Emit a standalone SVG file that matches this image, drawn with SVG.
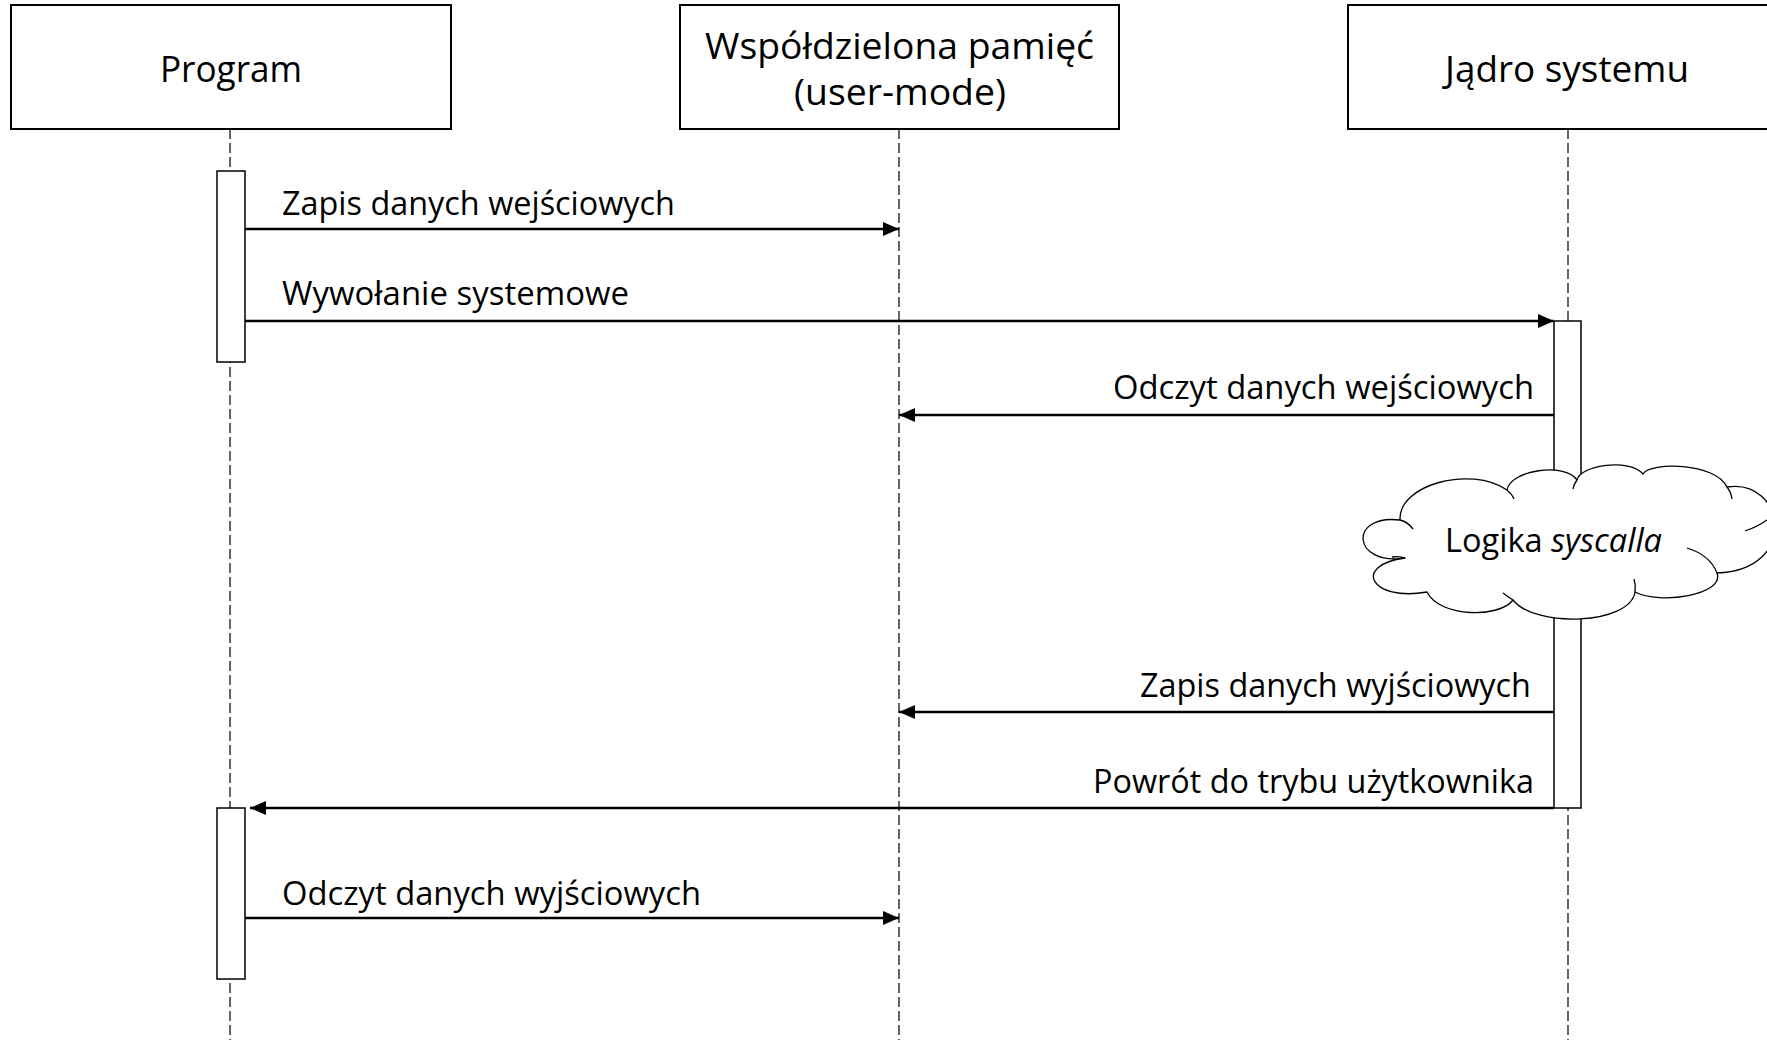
<svg xmlns="http://www.w3.org/2000/svg" width="1767" height="1044" viewBox="0 0 1767 1044">
  <style>
    .box { fill: #ffffff; stroke: #000000; stroke-width: 2; }
    .act { fill: #ffffff; stroke: #000000; stroke-width: 1.5; }
    .life { fill: none; stroke: #000000; stroke-width: 1.2; stroke-dasharray: 10 4; }
    .msg { fill: none; stroke: #000000; stroke-width: 2.5; }
    .head { font-family: "Open Sans", "Noto Sans", sans-serif; font-size: 37px; fill: #000000; text-anchor: middle; }
    .lbl { font-family: "Open Sans", "Noto Sans", sans-serif; font-size: 33px; fill: #000000; }
    .end { text-anchor: end; }
    .cloud { fill: #ffffff; stroke: #000000; stroke-width: 1.3; stroke-linejoin: round; }
    .cloudin { fill: none; stroke: #000000; stroke-width: 1.3; }
  </style>
  <defs>
    <marker id="arrow" markerUnits="userSpaceOnUse" markerWidth="17" markerHeight="15" refX="16" refY="7" orient="auto">
      <path d="M0,0 L16,7 L0,14 z" fill="#000000"/>
    </marker>
  </defs>

  <rect width="1767" height="1044" fill="#ffffff"/>

  <!-- lifelines -->
  <g id="lifelines">
    <line class="life" x1="230" y1="129" x2="230" y2="1040"/>
    <line class="life" x1="899" y1="129" x2="899" y2="1040"/>
    <line class="life" x1="1568" y1="129" x2="1568" y2="1040"/>
  </g>

  <!-- participants -->
  <g id="program">
    <rect class="box" x="11" y="5" width="440" height="124"/>
    <text class="head" x="231" y="82" textLength="142" lengthAdjust="spacingAndGlyphs">Program</text>
  </g>
  <g id="shared-memory">
    <rect class="box" x="680" y="5" width="439" height="124"/>
    <text class="head" x="899.5" y="59" textLength="389" lengthAdjust="spacingAndGlyphs">Współdzielona pamięć</text>
    <text class="head" x="900" y="105" textLength="212" lengthAdjust="spacingAndGlyphs">(user-mode)</text>
  </g>
  <g id="kernel">
    <rect class="box" x="1348" y="5" width="440" height="124"/>
    <text class="head" x="1567" y="82" textLength="244" lengthAdjust="spacingAndGlyphs">Jądro systemu</text>
  </g>

  <!-- activation bars -->
  <g id="program-activation-1">
    <rect class="act" x="217" y="171" width="28" height="191"/>
  </g>
  <g id="kernel-activation">
    <rect class="act" x="1554" y="321" width="27" height="487"/>
  </g>
  <g id="program-activation-2">
    <rect class="act" x="217" y="808" width="28" height="171"/>
  </g>

  <!-- syscall logic -->
  <g id="syscall-logic">
    <path class="cloud" d="M1405,558
      C1352,566 1348,514 1400,520
      C1398,485 1470,465 1507,490
      C1510,470 1565,462 1577,480
      C1580,465 1630,458 1643,474
      C1650,462 1715,462 1727,487
      C1785,478 1800,570 1717,573
      C1725,595 1660,605 1635,592
      C1630,625 1535,628 1513,600
      C1500,618 1440,618 1427,592
      C1370,602 1352,565 1405,558 Z"/>
    <path class="cloudin" d="M1400,520 Q1408,522 1413,529"/>
    <path class="cloudin" d="M1507,490 Q1512,494 1514,499"/>
    <path class="cloudin" d="M1577,480 Q1574,484 1573,489"/>
    <path class="cloudin" d="M1727,487 Q1731,492 1732,499"/>
    <path class="cloudin" d="M1745,531 Q1757,527 1767,520"/>
    <path class="cloudin" d="M1687,548 Q1710,555 1717,573"/>
    <path class="cloudin" d="M1635,592 Q1636,585 1634,579"/>
    <path class="cloudin" d="M1513,600 Q1508,597 1503,593"/>
    <path class="cloudin" d="M1405,558 Q1398,556 1392,557"/>
    <text class="lbl" x="1445" y="552" textLength="217" lengthAdjust="spacingAndGlyphs"><tspan>Logika </tspan><tspan font-style="italic">syscalla</tspan></text>
  </g>

  <!-- messages -->
  <g id="messages">
    <line class="msg" x1="245" y1="229" x2="899" y2="229" marker-end="url(#arrow)"/>
    <text class="lbl" x="282" y="215" textLength="393" lengthAdjust="spacingAndGlyphs">Zapis danych wejściowych</text>

    <line class="msg" x1="245" y1="321" x2="1554" y2="321" marker-end="url(#arrow)"/>
    <text class="lbl" x="282" y="305" textLength="347" lengthAdjust="spacingAndGlyphs">Wywołanie systemowe</text>

    <line class="msg" x1="1554" y1="415" x2="899" y2="415" marker-end="url(#arrow)"/>
    <text class="lbl end" x="1534" y="399" textLength="421" lengthAdjust="spacingAndGlyphs">Odczyt danych wejściowych</text>

    <line class="msg" x1="1554" y1="712" x2="899" y2="712" marker-end="url(#arrow)"/>
    <text class="lbl end" x="1531" y="697" textLength="391" lengthAdjust="spacingAndGlyphs">Zapis danych wyjściowych</text>

    <line class="msg" x1="1554" y1="808" x2="250" y2="808" marker-end="url(#arrow)"/>
    <text class="lbl end" x="1534" y="793" textLength="441" lengthAdjust="spacingAndGlyphs">Powrót do trybu użytkownika</text>

    <line class="msg" x1="245" y1="918" x2="899" y2="918" marker-end="url(#arrow)"/>
    <text class="lbl" x="282" y="905" textLength="419" lengthAdjust="spacingAndGlyphs">Odczyt danych wyjściowych</text>
  </g>
</svg>
